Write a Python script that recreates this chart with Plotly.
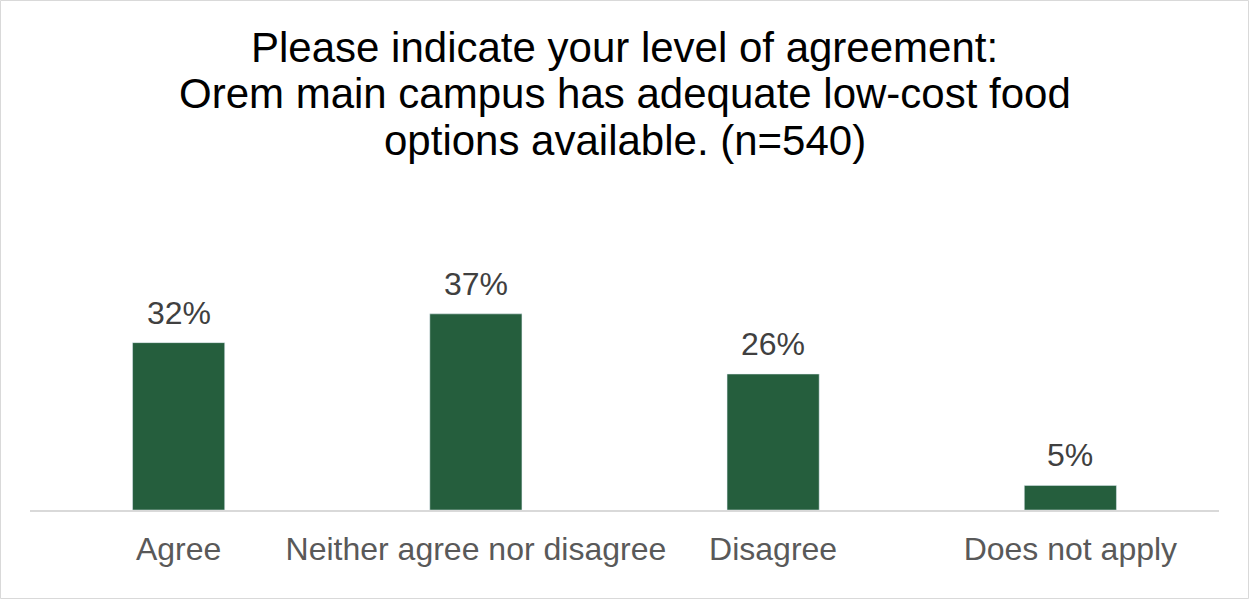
import plotly.graph_objects as go

categories = ["Agree", "Neither agree nor disagree", "Disagree", "Does not apply"]
values = [32.0, 37.5, 26.0, 4.7]
labels = ["32%", "37%", "26%", "5%"]
title_lines = [
    "Please indicate your level of agreement:",
    "Orem main campus has adequate low-cost food",
    "options available. (n=540)",
]

W, H = 1249, 600
L, R, T, B = 30, 30, 230, 90
pw, ph = W - L - R, H - T - B

fig = go.Figure(go.Bar(
    x=categories,
    y=values,
    marker=dict(color="#255E3D"),
    width=0.31,
    hoverinfo="skip",
))

# value labels above the bars
for c, v, t in zip(categories, values, labels):
    fig.add_annotation(x=c, y=v, text=t, showarrow=False, yanchor="bottom",
                       yshift=10, font=dict(size=32, color="#404040"))

# title, one annotation per line to get the wide line spacing
title_y = [47, 93, 140]
for line, yy in zip(title_lines, title_y):
    fig.add_annotation(xref="paper", yref="paper", x=0.5,
                       y=1 + (T - yy) / ph, text=line, showarrow=False,
                       yanchor="middle", font=dict(size=42, color="#000000"))

# light border around the whole chart
fig.add_shape(type="rect", xref="paper", yref="paper",
              x0=-(L - 0.5) / pw, x1=1 + (R - 0.5) / pw,
              y0=-(B - 1.5) / ph, y1=1 + (T - 0.5) / ph,
              line=dict(color="#D9D9D9", width=1))

fig.update_layout(
    width=W, height=H,
    margin=dict(l=L, r=R, t=T, b=B),
    paper_bgcolor="white", plot_bgcolor="white",
    font=dict(family="Liberation Sans, Arial, sans-serif"),
    showlegend=False,
)
fig.update_xaxes(showline=True, linecolor="#D9D9D9", linewidth=1.5,
                 ticks="", tickfont=dict(size=32, color="#595959"),
                 ticklabelstandoff=10)
fig.update_yaxes(range=[0, ph / 5.23], visible=False, showgrid=False)

# drop the default page margin so the chart sits at the window corner
fig.write_html("out.html", config={"displayModeBar": False},
               post_script="document.body.style.margin='0';")
